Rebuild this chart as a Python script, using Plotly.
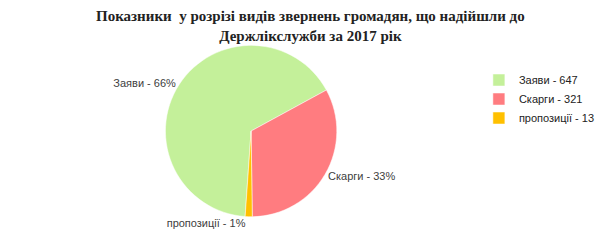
import plotly.graph_objects as go

categories = ["Заяви", "Скарги", "пропозиції"]
values = [647, 321, 13]
legend_labels = [f"{c} - {v}" for c, v in zip(categories, values)]
colors = ["#c4f09a", "#ff7c80", "#ffc000"]
title_lines = ["Показники  у розрізі видів звернень громадян, що надійшли до",
               "Держлікслужби за 2017 рік"]

fig = go.Figure(go.Pie(
    labels=legend_labels,
    values=values,
    customdata=categories,
    sort=False,
    direction="clockwise",
    rotation=184,
    marker=dict(colors=colors, line=dict(color="#ffffff", width=0.5)),
    texttemplate="%{customdata} - %{percent:.0%}",
    textposition="outside",
    textfont=dict(family="Liberation Sans", size=11, color="#404040"),
    domain=dict(x=[0.28, 0.58], y=[0.14, 0.82]),
    hoverinfo="label+percent",
))

fig.add_annotation(
    text="<b>" + "<br>".join(title_lines) + "</b>",
    x=0.532, xref="paper", xanchor="center",
    y=0.975, yref="paper", yanchor="top",
    showarrow=False,
    font=dict(family="Liberation Serif", size=15, color="#222222"),
)

fig.update_layout(
    width=600, height=252,
    margin=dict(l=0, r=0, t=0, b=0),
    paper_bgcolor="white",
    plot_bgcolor="white",
    legend=dict(
        x=0.82, y=0.74, xanchor="left", yanchor="top",
        font=dict(family="Liberation Sans", size=11, color="#222222"),
        itemwidth=30,
    ),
    showlegend=True,
)

fig.write_html("out.html")
